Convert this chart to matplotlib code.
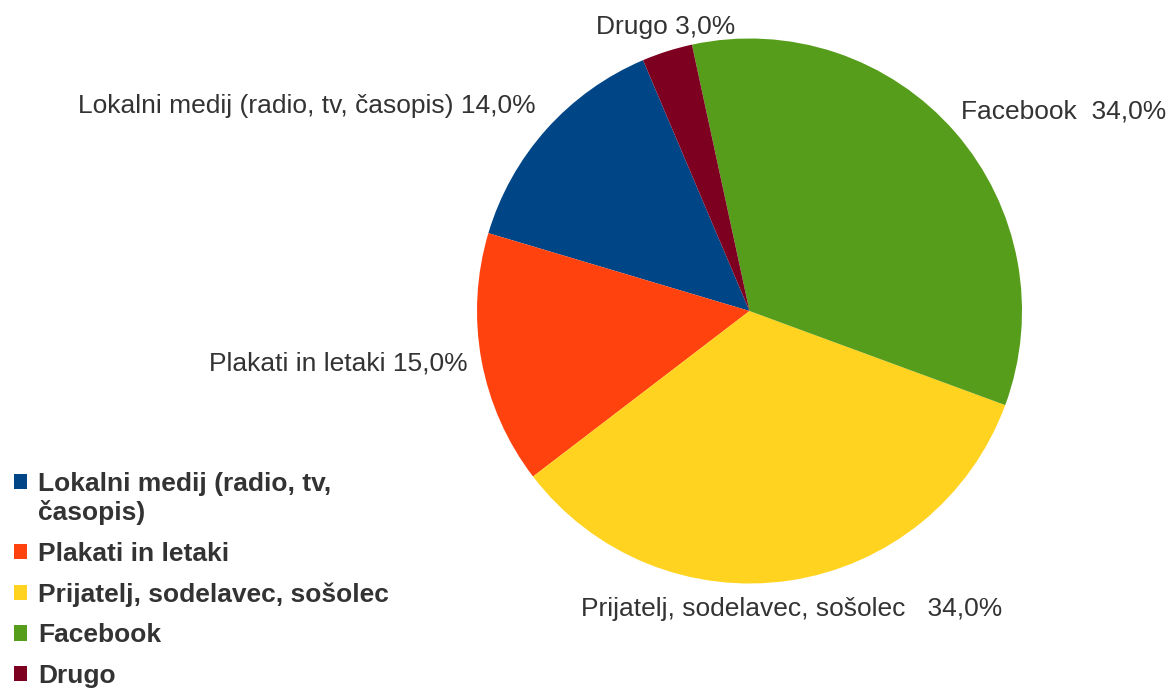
import matplotlib.pyplot as plt

plt.rcParams['font.family'] = ['Liberation Sans', 'DejaVu Sans']

categories = ['Lokalni medij (radio, tv, časopis)', 'Plakati in letaki',
              'Prijatelj, sodelavec, sošolec', 'Facebook', 'Drugo']
legend_labels = ['Lokalni medij (radio, tv,\nčasopis)', 'Plakati in letaki',
                 'Prijatelj, sodelavec, sošolec', 'Facebook', 'Drugo']
values = [14.0, 15.0, 34.0, 34.0, 3.0]
label_gaps = [' ', ' ', '   ', '  ', ' ']
colors = ['#004586', '#ff420e', '#ffd320', '#579d1c', '#7e0021']

# label anchors in pixels (x, y from top, horizontal alignment)
label_pos = [(536, 106, 'right'), (468, 363, 'right'), (581, 609, 'left'),
             (961, 111, 'left'), (596, 27, 'left')]

W, H = 1171, 688
fig = plt.figure(figsize=(W / 100, H / 100), dpi=100)
ax = fig.add_axes([0, 0, 1, 1])

wedges, _ = ax.pie(values, colors=colors, startangle=113, counterclock=True,
                   center=(749.5, H - 311), radius=272.5,
                   wedgeprops=dict(linewidth=0))
ax.set_xlim(0, W)
ax.set_ylim(0, H)
ax.set_aspect('equal')
ax.axis('off')

text_color = '#333333'
for cat, val, gap, (x, y, ha) in zip(categories, values, label_gaps, label_pos):
    txt = f"{cat}{gap}{val:.1f}%".replace('.', ',')
    ax.text(x, H - y, txt, ha=ha, va='center', fontsize=19, color=text_color)

leg = ax.legend(wedges, legend_labels, loc='lower left',
                bbox_to_anchor=(14 / W, 0), bbox_transform=fig.transFigure,
                frameon=False, borderpad=0, borderaxespad=0,
                handlelength=0.5, handleheight=0.5, handletextpad=0.42,
                labelspacing=0.63, prop={'size': 19, 'weight': 'bold'})
for t in leg.get_texts():
    t.set_color(text_color)
    t.set_linespacing(1.22)
# put the square of the two-line entry next to its first line
h0 = leg.legend_handles[0]
h0.set_y(h0.get_y() + 12)

fig.savefig('out.png', dpi=100)
